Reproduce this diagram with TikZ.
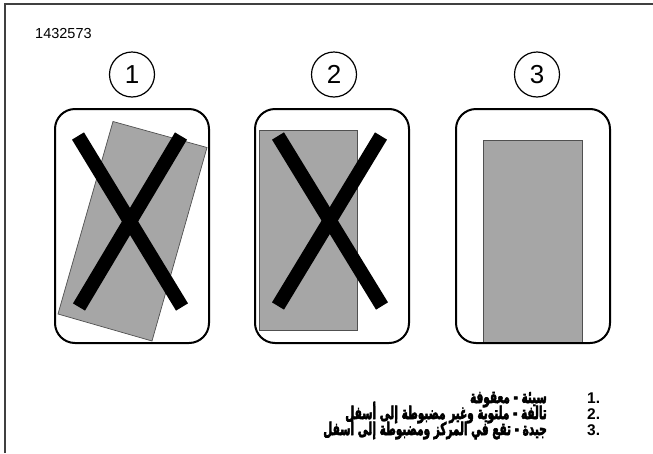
\documentclass[tikz,border=0pt]{standalone}
\usepackage{fontspec}
\setmainfont{Liberation Sans}
\newfontfamily\arabicfont[Script=Arabic, FakeBold=4]{DejaVu Sans}
\TeXXeTstate=1
\usetikzlibrary{positioning}
\definecolor{platefill}{HTML}{A6A6A6}
\definecolor{plateedge}{HTML}{505050}
\definecolor{rim}{HTML}{404040}
\newcommand{\artext}[1]{\scalebox{0.6}[1]{\arabicfont\fontsize{17.5}{18}\selectfont\beginR #1\endR}}

\begin{document}
\begin{tikzpicture}[x=1pt, y=-1pt,
      frame/.style={draw=black, line width=2pt, rounded corners=20pt,
        minimum width=154pt, minimum height=234pt, outer sep=0pt},
      num/.style={circle, draw=black, line width=1.2pt, minimum size=45pt,
        inner sep=0pt, outer sep=0pt, font=\fontsize{26}{26}\selectfont},
      plate/.style={fill=platefill, draw=plateedge, line width=0.7pt},
      cross/.style={black, line width=14pt},
      item/.style={font=\bfseries\fontsize{15.5}{16}\selectfont, inner sep=0pt}]
    \useasboundingbox (0,0) rectangle (653,453);
    \draw[rim, line width=1.2pt] (5,453) -- (5,4) -- (653,4);
    \node[anchor=west, inner sep=0pt, font=\fontsize{14.5}{15}\selectfont] (code) at (35,34) {1432573};
    % the three gray plates
    \draw[plate] (113,121.5) -- (207,147.5) -- (152,341) -- (58,314) -- cycle;
    \draw[plate] (259,130) rectangle (357,330);
    \draw[plate] (483,140) rectangle (582,342);
    % the three frames
    \node[frame] (b1) at (132,226) {};
    \node[frame, right=46pt of b1] (b2) {};
    \node[frame, right=47pt of b2] (b3) {};
    \node[num, above=12pt of b1] (n1) {1};
    \node[num, above=12pt of b2, xshift=2pt] (n2) {2};
    \node[num, above=12pt of b3, xshift=4pt] (n3) {3};
    % crosses on the bad ones
    \draw[cross] (78,136) -- (182,307);
    \draw[cross] (181,136) -- (79,307);
    \draw[cross] (278,136) -- (382,306);
    \draw[cross] (381,136) -- (278,306);
    % legend
    \node[item, anchor=base west] (k1) at (587,403) {1.};
    \node[item, anchor=base west] (k2) at (587,419) {2.};
    \node[item, anchor=base west] (k3) at (587,435) {3.};
    \node[item, anchor=base east] (t1) at (547,403) {\artext{سيئة - معقوفة}};
    \node[item, anchor=base east] (t2) at (547,419) {\artext{تالفة - ملتوية وغير مضبوطة إلى أسفل}};
    \node[item, anchor=base east] (t3) at (547,435) {\artext{جيدة - تقع في المركز ومضبوطة إلى أسفل}};
  \end{tikzpicture}
\end{document}
